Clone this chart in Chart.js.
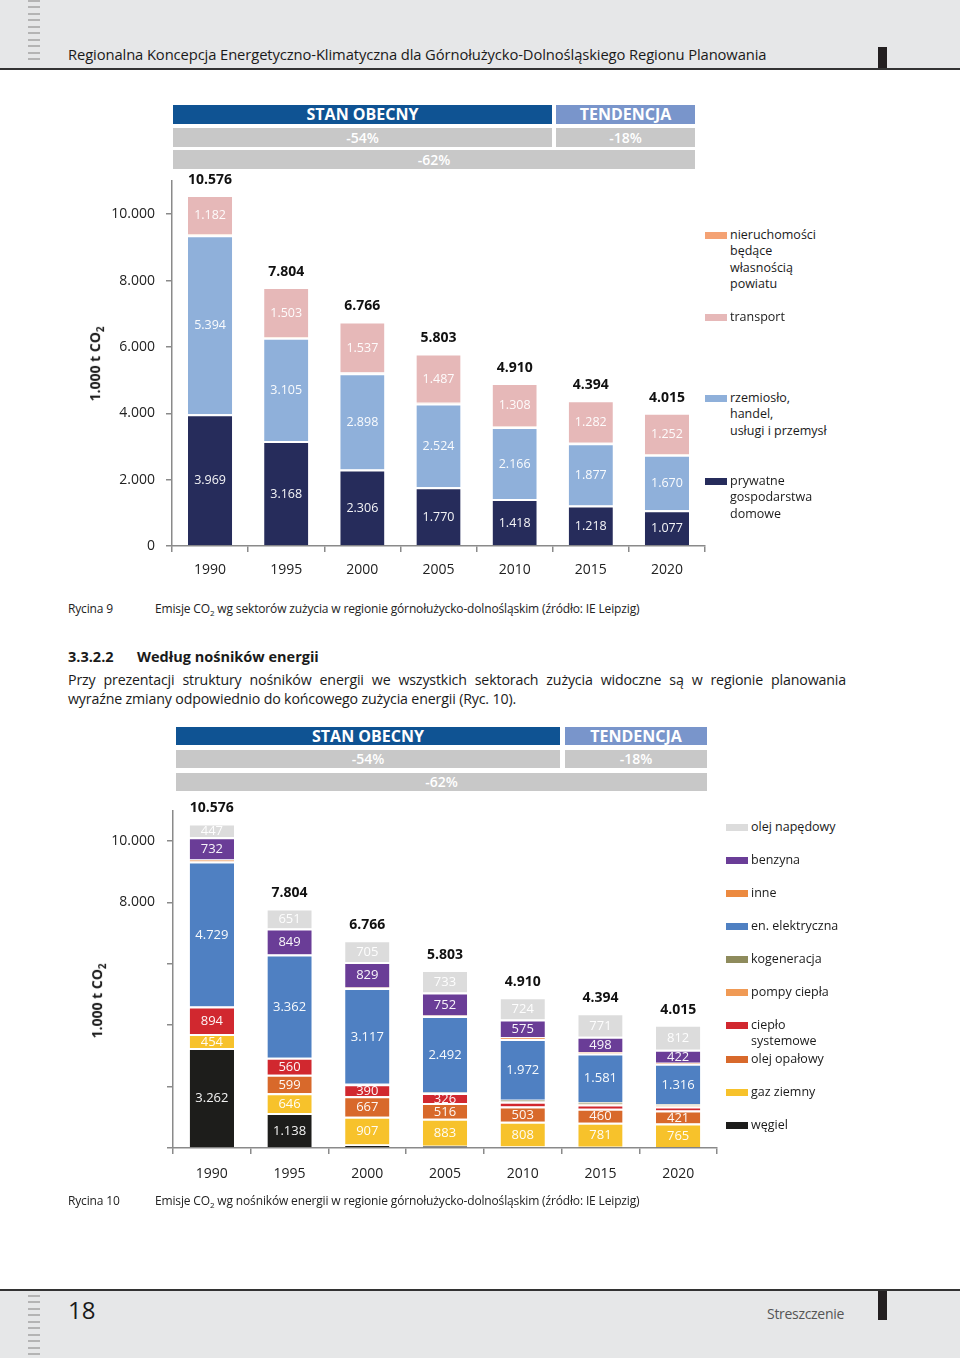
<!DOCTYPE html>
<html>
<head>
<meta charset="utf-8">
<script src="https://cdn.jsdelivr.net/npm/chart.js@4.4.0/dist/chart.umd.min.js"></script>
<style>
  html, body { margin: 0; padding: 0; }
  body { width: 960px; height: 1358px; position: relative; background: #fff; font-family: 'Open Sans', sans-serif; color: #1a1a1a; overflow: hidden; }
  .abs { position: absolute; }
  .band { position: absolute; left: 0; width: 960px; background: #e6e7e8; }
  .dashes { position: absolute; left: 28px; width: 12px; background: repeating-linear-gradient(to bottom, #b4b4b4 0 2px, transparent 2px 6.5px); }
  .blk { position: absolute; left: 878px; width: 9px; background: #231f20; }
  .box { position: absolute; color: #fff; font-weight: 700; text-align: center; box-sizing: border-box; }
  .box.dark { background: #0f5393; font-size: 16px; line-height: 19px; }
  .box.light { background: #7995cb; font-size: 16px; line-height: 19px; }
  .box.grey { background: #c8c8c8; font-size: 14px; line-height: 19px; font-weight: 600; }
  .leg { position: absolute; font-size: 12.5px; line-height: 16.3px; color: #1a1a1a; }
  .leg i { position: absolute; left: -25px; top: 5px; width: 22px; height: 7px; }
  .ytitle { position: absolute; transform: rotate(-90deg); transform-origin: center; font-weight: 700; font-size: 14px; white-space: nowrap; width: 120px; text-align: center; }
  .cap { position: absolute; font-size: 12px; letter-spacing: -0.15px; color: #222; }
  canvas { position: absolute; }
</style>
</head>
<body>
<div class="band" style="top:0;height:68px;"></div>
<div class="dashes" style="top:0;height:64px;"></div>
<div class="abs" style="left:0;top:68px;width:960px;height:2px;background:#333;"></div>
<div class="blk" style="top:47px;height:21px;"></div>
<div class="abs" style="left:68px;top:44px;font-size:14.75px;letter-spacing:-0.1px;white-space:nowrap;">Regionalna Koncepcja Energetyczno-Klimatyczna dla Górnołużycko-Dolnośląskiego Regionu Planowania</div>

<!-- chart 1 header boxes -->
<div class="box dark" style="left:173px;top:105px;width:379px;height:19px;">STAN OBECNY</div>
<div class="box light" style="left:556px;top:105px;width:139px;height:19px;">TENDENCJA</div>
<div class="box grey" style="left:173px;top:128px;width:379px;height:19px;">-54%</div>
<div class="box grey" style="left:556px;top:128px;width:139px;height:19px;">-18%</div>
<div class="box grey" style="left:173px;top:150px;width:522px;height:19px;">-62%</div>

<canvas id="chart1" width="660" height="427" style="left:60px;top:160px;"></canvas>
<div class="ytitle" style="left:36px;top:353px;">1.000 t CO<sub style="font-size:10px;">2</sub></div>

<div class="leg" style="left:730px;top:227px;"><i style="background:#f4a274;"></i>nieruchomości<br>będące<br>własnością<br>powiatu</div>
<div class="leg" style="left:730px;top:309px;"><i style="background:#e6b8b8;"></i>transport</div>
<div class="leg" style="left:730px;top:390px;"><i style="background:#8fb0da;"></i>rzemiosło,<br>handel,<br>usługi i przemysł</div>
<div class="leg" style="left:730px;top:473px;"><i style="background:#262c5b;"></i>prywatne<br>gospodarstwa<br>domowe</div>

<div class="cap" style="left:68px;top:600px;">Rycina 9</div>
<div class="cap" style="left:155px;top:600px;white-space:nowrap;">Emisje CO<sub style="font-size:8px;">2</sub> wg sektorów zużycia w regionie górnołużycko-dolnośląskim (źródło: IE Leipzig)</div>

<div class="abs" style="left:68px;top:647px;font-size:14.5px;font-weight:700;">3.3.2.2</div>
<div class="abs" style="left:137px;top:647px;font-size:14.5px;font-weight:700;">Według nośników energii</div>
<div class="abs" style="left:68px;top:670px;width:778px;font-size:14.2px;text-align:justify;text-align-last:justify;white-space:nowrap;letter-spacing:-0.15px;">Przy prezentacji struktury nośników energii we wszystkich sektorach zużycia widoczne są w regionie planowania</div>
<div class="abs" style="left:68px;top:689px;width:778px;font-size:14.2px;letter-spacing:-0.15px;white-space:nowrap;">wyraźne zmiany odpowiednio do końcowego zużycia energii (Ryc. 10).</div>

<!-- chart 2 header boxes -->
<div class="box dark" style="left:176px;top:727px;width:384px;height:18px;line-height:18px;">STAN OBECNY</div>
<div class="box light" style="left:565px;top:727px;width:142px;height:18px;line-height:18px;">TENDENCJA</div>
<div class="box grey" style="left:176px;top:750px;width:384px;height:18px;line-height:18px;">-54%</div>
<div class="box grey" style="left:565px;top:750px;width:142px;height:18px;line-height:18px;">-18%</div>
<div class="box grey" style="left:176px;top:773px;width:531px;height:18px;line-height:18px;">-62%</div>

<canvas id="chart2" width="670" height="408" style="left:60px;top:790px;"></canvas>
<div class="ytitle" style="left:38px;top:990px;">1.000 t CO<sub style="font-size:10px;">2</sub></div>

<div class="leg" style="left:751px;top:819px;"><i style="background:#dcdcdc;"></i>olej napędowy</div>
<div class="leg" style="left:751px;top:852px;"><i style="background:#6a3d97;"></i>benzyna</div>
<div class="leg" style="left:751px;top:885px;"><i style="background:#ec8a40;"></i>inne</div>
<div class="leg" style="left:751px;top:918px;"><i style="background:#4f80c2;"></i>en. elektryczna</div>
<div class="leg" style="left:751px;top:951px;"><i style="background:#8e8b5c;"></i>kogeneracja</div>
<div class="leg" style="left:751px;top:984px;"><i style="background:#f09a55;"></i>pompy ciepła</div>
<div class="leg" style="left:751px;top:1017px;"><i style="background:#d1282f;"></i>ciepło<br>systemowe</div>
<div class="leg" style="left:751px;top:1051px;"><i style="background:#d8692b;"></i>olej opałowy</div>
<div class="leg" style="left:751px;top:1084px;"><i style="background:#f7c22b;"></i>gaz ziemny</div>
<div class="leg" style="left:751px;top:1117px;"><i style="background:#1d1d1b;"></i>węgiel</div>

<div class="cap" style="left:68px;top:1192px;">Rycina 10</div>
<div class="cap" style="left:155px;top:1192px;white-space:nowrap;">Emisje CO<sub style="font-size:8px;">2</sub> wg nośników energii w regionie górnołużycko-dolnośląskim (źródło: IE Leipzig)</div>

<div class="abs" style="left:0;top:1289px;width:960px;height:2px;background:#333;"></div>
<div class="band" style="top:1291px;height:67px;"></div>
<div class="dashes" style="top:1295px;height:63px;"></div>
<div class="blk" style="top:1291px;height:29px;"></div>
<div class="abs" style="left:68px;top:1293px;font-size:24px;font-weight:500;">18</div>
<div class="abs" style="left:767px;top:1304px;font-size:14px;color:#555;letter-spacing:-0.3px;">Streszczenie</div>

<script>
// categories
const years = ['1990', '1995', '2000', '2005', '2010', '2015', '2020'];

// chart 1: emissions by sector (1.000 t CO2)
const prywatne = [3969, 3168, 2306, 1770, 1418, 1218, 1077];
const rzemioslo = [5394, 3105, 2898, 2524, 2166, 1877, 1670];
const nieruchomosci = [31, 28, 25, 22, 18, 17, 16];
const transport = [1182, 1503, 1537, 1487, 1308, 1282, 1252];
const totals1 = [10576, 7804, 6766, 5803, 4910, 4394, 4015];

// chart 2: emissions by energy carrier (1.000 t CO2)
const wegiel = [3262, 1138, 110, 70, 45, 40, 35];
const gazZiemny = [454, 646, 907, 883, 808, 781, 765];
const olejOpalowy = [0, 599, 667, 516, 503, 460, 421];
const cieploSystemowe = [894, 560, 390, 326, 150, 140, 130];
const pompyCiepla = [0, 0, 0, 0, 10, 20, 30];
const kogeneracja = [0, 0, 20, 15, 60, 60, 50];
const enElektryczna = [4729, 3362, 3117, 2492, 1972, 1581, 1316];
const inne = [58, 0, 21, 16, 63, 43, 34];
const benzyna = [732, 849, 829, 752, 575, 498, 422];
const olejNapedowy = [447, 651, 705, 733, 724, 771, 812];
const totals2 = [10576, 7804, 6766, 5803, 4910, 4394, 4015];

// y ticks
const yTicks = [0, 2000, 4000, 6000, 8000, 10000];
const yTicks2Shown = [8000, 10000];

Chart.defaults.font.family = "'Open Sans', sans-serif";
Chart.defaults.color = '#1a1a1a';

const fmt = v => v.toLocaleString('de-DE');

const barLabels = {
    id: 'barLabels',
    afterDatasetsDraw(chart, args, opts) {
        const ctx = chart.ctx;
        ctx.save();
        ctx.textAlign = 'center';
        ctx.textBaseline = 'middle';
        ctx.font = opts.font;
        ctx.fillStyle = 'rgba(255,255,255,0.95)';
        chart.data.datasets.forEach((ds, i) => {
            chart.getDatasetMeta(i).data.forEach((bar, j) => {
                const v = ds.data[j];
                if (v < 300) return;
                ctx.fillText(fmt(v), bar.x, (bar.y + bar.base) / 2 + 1);
            });
        });
        ctx.font = 'bold 14px "Open Sans"';
        ctx.fillStyle = '#111';
        const meta = chart.getDatasetMeta(0);
        opts.totals.forEach((t, j) => {
            ctx.fillText(fmt(t), meta.data[j].x, chart.scales.y.getPixelForValue(t) - 15);
        });
        ctx.restore();
    }
};

const seg = (label, data, color, bp) => ({
    label, data, backgroundColor: color,
    borderColor: '#fff',
    borderWidth: { top: 2, left: 0, right: 0, bottom: 0 },
    borderSkipped: false,
    barPercentage: bp || 0.58,
    categoryPercentage: 1
});

const axisX = (h, pad) => ({
    stacked: true,
    offset: true,
    grid: { offset: true, drawOnChartArea: false, tickLength: 6, color: '#8a8a8a', lineWidth: 1.5 },
    border: { color: '#8a8a8a', width: 1.5 },
    ticks: { font: { size: 14 }, color: '#222', padding: pad },
    afterFit: s => { s.height = h; }
});

const axisY = (w, pad, cb) => ({
    stacked: true,
    min: 0,
    max: 11000,
    afterBuildTicks: s => { s.ticks = yTicks.map(v => ({ value: v })); },
    grid: { drawOnChartArea: false, tickLength: 6, color: '#8a8a8a', lineWidth: 1.5 },
    border: { color: '#8a8a8a', width: 1.5 },
    ticks: { font: { size: 14 }, color: '#222', padding: pad, callback: cb },
    afterFit: s => { s.width = w; }
});

// 1. Emisje wg sektorów
new Chart(document.getElementById('chart1'), {
    type: 'bar',
    data: {
        labels: years,
        datasets: [
            seg('prywatne gospodarstwa domowe', prywatne, '#262c5b'),
            seg('rzemiosło, handel, usługi i przemysł', rzemioslo, '#8fb0da'),
            seg('nieruchomości będące własnością powiatu', nieruchomosci, '#f4a274'),
            seg('transport', transport, '#e6b8b8')
        ]
    },
    options: {
        responsive: false,
        animation: false,
        layout: { padding: { top: 21, right: 15, left: 0, bottom: 0 } },
        plugins: {
            legend: { display: false },
            tooltip: { enabled: false },
            barLabels: { font: '12.5px "Open Sans"', totals: totals1 }
        },
        scales: {
            x: axisX(41, 10),
            y: axisY(112, 11, v => fmt(v))
        }
    },
    plugins: [barLabels]
});

// 2. Emisje wg nośników energii
new Chart(document.getElementById('chart2'), {
    type: 'bar',
    data: {
        labels: years,
        datasets: [
            seg('węgiel', wegiel, '#1d1d1b', 0.57),
            seg('gaz ziemny', gazZiemny, '#f7c22b', 0.57),
            seg('olej opałowy', olejOpalowy, '#d8692b', 0.57),
            seg('ciepło systemowe', cieploSystemowe, '#d1282f', 0.57),
            seg('pompy ciepła', pompyCiepla, '#f09a55', 0.57),
            seg('kogeneracja', kogeneracja, '#8e8b5c', 0.57),
            seg('en. elektryczna', enElektryczna, '#4f80c2', 0.57),
            seg('inne', inne, '#ec8a40', 0.57),
            seg('benzyna', benzyna, '#6a3d97', 0.57),
            seg('olej napędowy', olejNapedowy, '#dcdcdc', 0.57)
        ]
    },
    options: {
        responsive: false,
        animation: false,
        layout: { padding: { top: 18, right: 13, left: 0, bottom: 0 } },
        plugins: {
            legend: { display: false },
            tooltip: { enabled: false },
            barLabels: { font: '13px "Open Sans"', totals: totals2 }
        },
        scales: {
            x: axisX(50, 12),
            y: axisY(113, 12, v => yTicks2Shown.includes(v) ? fmt(v) : '')
        }
    },
    plugins: [barLabels]
});
</script>
</body>
</html>
